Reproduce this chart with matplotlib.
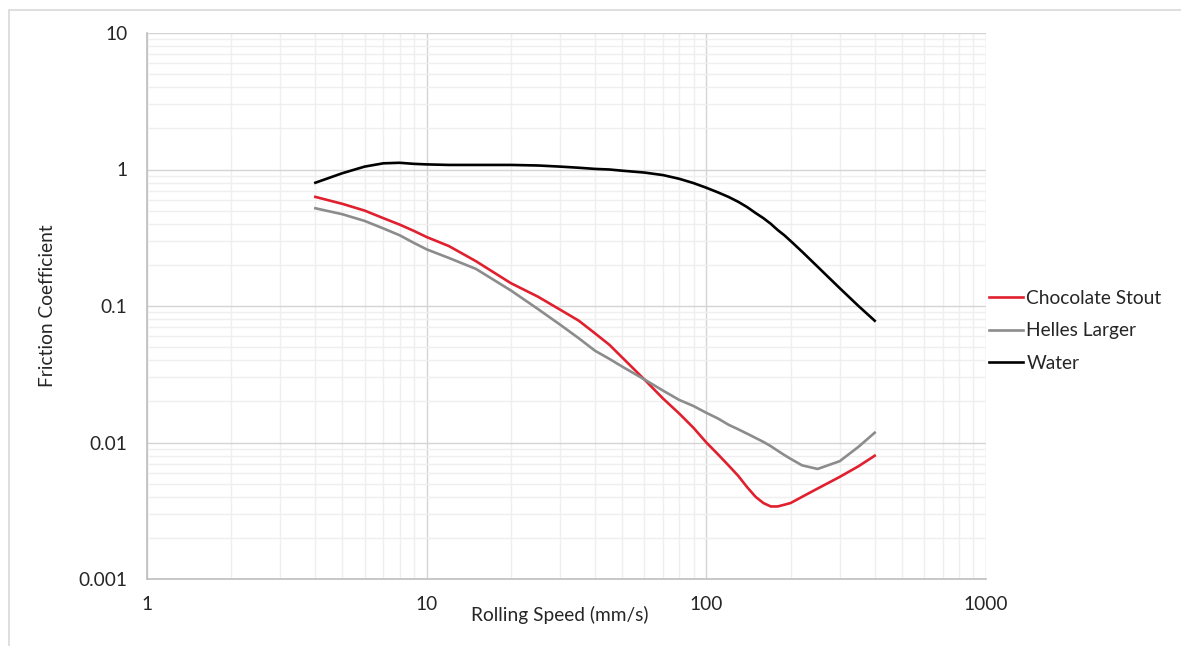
import matplotlib.pyplot as plt
from matplotlib.patches import Rectangle
from matplotlib.ticker import LogLocator, NullFormatter, FixedLocator, FixedFormatter

# rolling speed (mm/s) sampled along the curves
speed = [4, 5, 6, 7, 8, 9, 10, 12, 15, 20, 25, 30, 35, 40, 45, 50, 60, 70, 80, 90,
         100, 110, 120, 130, 140, 150, 160, 170, 180, 190, 200, 220, 250, 300, 350, 400]

chocolate_stout = [0.63, 0.56, 0.50, 0.44, 0.395, 0.355, 0.32, 0.275, 0.213, 0.147,
                   0.117, 0.094, 0.078, 0.063, 0.052, 0.042, 0.029, 0.021, 0.0163,
                   0.0128, 0.0100, 0.0082, 0.0068, 0.0057, 0.0047, 0.0040, 0.0036,
                   0.0034, 0.0034, 0.0035, 0.0036, 0.0040, 0.0046, 0.0056, 0.0067,
                   0.0080]
helles_larger = [0.52, 0.47, 0.42, 0.37, 0.33, 0.29, 0.26, 0.225, 0.187, 0.13,
                 0.095, 0.073, 0.058, 0.047, 0.041, 0.036, 0.029, 0.024, 0.0205,
                 0.0185, 0.0165, 0.015, 0.0135, 0.0125, 0.0116, 0.0108, 0.0101,
                 0.0094, 0.0087, 0.0081, 0.0076, 0.0068, 0.0064, 0.0073, 0.0093,
                 0.0118]
water = [0.80, 0.94, 1.05, 1.11, 1.12, 1.10, 1.09, 1.08, 1.08, 1.08, 1.07, 1.05,
         1.03, 1.01, 1.00, 0.98, 0.95, 0.91, 0.855, 0.795, 0.735, 0.68, 0.63, 0.58,
         0.53, 0.48, 0.44, 0.40, 0.36, 0.33, 0.30, 0.25, 0.194, 0.135, 0.100, 0.078]

x_ticks = [1, 10, 100, 1000]
x_labels = ["1", "10", "100", "1000"]
y_ticks = [0.001, 0.01, 0.1, 1, 10]
y_labels = ["0.001", "0.01", "0.1", "1", "10"]

plt.rcParams['font.family'] = ['Lato', 'DejaVu Sans']
FS = 13.8

fig = plt.figure(figsize=(11.81, 6.46), dpi=100)
ax = fig.add_axes([147 / 1181, 1 - 579 / 646, 839 / 1181, 546 / 646])

# outer chart border (only top and left visible)
fig.patches.append(Rectangle((9 / 1181, -0.1), 1.2, 1 - 10 / 646 + 0.1,
                             transform=fig.transFigure, fill=False,
                             edgecolor='#d9d9d9', linewidth=1.2))

ax.plot(speed, chocolate_stout, color='#e0202e', lw=1.9, label='Chocolate Stout',
        solid_joinstyle='round')
ax.plot(speed, helles_larger, color='#8c8c8c', lw=1.9, label='Helles Larger',
        solid_joinstyle='round')
ax.plot(speed, water, color='#000000', lw=1.9, label='Water',
        solid_joinstyle='round')

ax.set_xscale('log')
ax.set_yscale('log')
ax.set_xlim(1, 1000)
ax.set_ylim(0.001, 10)

ax.xaxis.set_major_locator(FixedLocator(x_ticks))
ax.xaxis.set_major_formatter(FixedFormatter(x_labels))
ax.yaxis.set_major_locator(FixedLocator(y_ticks))
ax.yaxis.set_major_formatter(FixedFormatter(y_labels))
ax.xaxis.set_minor_locator(LogLocator(base=10, subs=range(2, 10)))
ax.yaxis.set_minor_locator(LogLocator(base=10, subs=range(2, 10)))
ax.xaxis.set_minor_formatter(NullFormatter())
ax.yaxis.set_minor_formatter(NullFormatter())

ax.grid(which='major', color='#d4d4d4', lw=1.0)
ax.grid(which='minor', color='#efefef', lw=1.0)
ax.set_axisbelow(True)

for s in ['top', 'right']:
    ax.spines[s].set_visible(False)
for s in ['left', 'bottom']:
    ax.spines[s].set_color('#bfbfbf')
    ax.spines[s].set_linewidth(1.2)

ax.tick_params(which='both', length=0, labelsize=FS, colors='#262626')
ax.tick_params(axis='y', pad=14)
ax.tick_params(axis='x', pad=12)

ax.set_xlabel('Rolling Speed (mm/s)', fontsize=FS, color='#262626')
ax.xaxis.set_label_coords((560 - 147) / 839, (579 - 615) / 546)
ax.xaxis.label.set_va('center')
ax.set_ylabel('Friction Coefficient', fontsize=FS, color='#262626')
ax.yaxis.set_label_coords((48 - 147) / 839, 0.5)
ax.yaxis.label.set_va('center')

fig.legend(loc='center left', bbox_to_anchor=(989 / 1181, 1 - 331 / 646),
           frameon=False, fontsize=FS, handlelength=1.75, handletextpad=0.2,
           labelspacing=0.8, borderpad=0, borderaxespad=0, labelcolor='#262626')

fig.savefig('out.png', dpi=100)
